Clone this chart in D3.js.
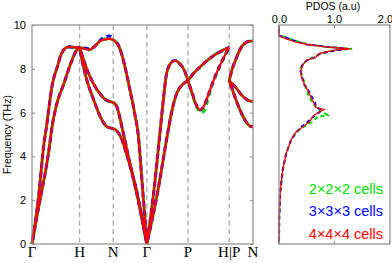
<!DOCTYPE html>
<html>
<head>
<meta charset="utf-8">
<script src="https://cdn.jsdelivr.net/npm/d3@7"></script>
<style>
body { margin: 0; background: #fff; }
svg { display: block; }
text { font-family: "Liberation Sans", Arial, sans-serif; }
</style>
</head>
<body>
<div id="chart"></div>
<script>
// high symmetry path
var kLabels = ["Γ", "H", "N", "Γ", "P", "H|P", "N"];
var kPos = [0, 1, 1.707, 2.414, 3.280, 4.146, 4.646];
var freqTicks = [0, 2, 4, 6, 8, 10];
var pdosTicks = [0, 1, 2];

// phonon branches, per segment, as [fraction along segment, THz]
var gammaH = [
  [[0,0],[0.13,2.0],[0.261,4.74],[0.294,5.2],[0.431,7.33],[0.534,8.1],[0.602,8.6],[0.678,8.9],[0.774,9.0],[0.883,8.98],[1,8.97]],
  [[0,0],[0.1,1.22],[0.384,4.74],[0.411,5.2],[0.499,6.2],[0.671,7.33],[0.842,8.4],[0.924,8.8],[1,8.97]]
];
var hN = [
  [[0,8.97],[0.15,8.92],[0.27,8.86],[0.47,9.05],[0.62,9.28],[0.87,9.37],[1,9.33]],
  [[0,8.97],[0.12,8.4],[0.25,7.85],[0.42,7.3],[0.6,6.88],[0.75,6.62],[0.9,6.5],[1,6.47]],
  [[0,8.97],[0.1,8.2],[0.22,7.47],[0.42,6.58],[0.62,5.8],[0.82,5.35],[1,5.27]]
];
var nGamma = [
  [[0,9.33],[0.18,8.99],[0.33,8.23],[0.48,7.17],[0.64,5.95],[0.74,5.04],[0.87,2.6],[1,0]],
  [[0,6.47],[0.1,6.3],[0.28,5.2],[0.45,4.0],[0.6,3.0],[0.75,1.95],[0.9,0.8],[1,0]],
  [[0,5.27],[0.1,5.18],[0.25,4.8],[0.4,4.1],[0.55,3.3],[0.7,2.4],[0.85,1.25],[1,0]]
];
var gammaP = [
  [[0,0],[0.154,2.15],[0.32,5.1],[0.4,6.56],[0.48,7.78],[0.6,8.3],[0.68,8.38],[0.8,8.23],[0.93,7.85],[1,7.45]],
  [[0,0],[0.24,2.15],[0.52,5.2],[0.6,6.0],[0.72,6.85],[0.85,7.25],[1,7.45]]
];
var pH = [
  [[0,7.45],[0.13,7.78],[0.29,8.08],[0.62,8.6],[0.87,8.87],[1,8.97]],
  [[0,7.45],[0.1,6.9],[0.2,6.35],[0.29,6.12],[0.37,6.25],[0.5,6.85],[0.62,7.47],[0.87,8.53],[1,8.97]]
];
var pN = [
  [[0,7.45],[0.1,7.9],[0.26,8.38],[0.47,8.91],[0.74,9.22],[0.95,9.27],[1,9.27]],
  [[0,7.45],[0.26,7.17],[0.53,6.79],[0.8,6.56],[1,6.5]],
  [[0,7.45],[0.19,6.87],[0.4,6.26],[0.67,5.65],[0.88,5.38],[1,5.35]]
];
// smaller supercells differ a little on a few branches
var blueHNTop = [[0,8.97],[0.15,8.95],[0.3,8.9],[0.5,9.1],[0.65,9.35],[0.88,9.5],[1,9.4]];
var greenPHLow = [[0,7.45],[0.1,6.85],[0.2,6.3],[0.31,6.0],[0.4,6.1],[0.5,6.75],[0.62,7.42],[0.87,8.5],[1,8.97]];

// PDOS
var pdosFreq = [10, 9.5, 9.46, 9.37, 9.22, 9.11, 9.0, 8.91, 8.85, 8.69, 8.53, 8.38, 8.15, 7.93, 7.7, 7.32, 7.02, 6.71, 6.41, 6.23, 6.14, 6.03, 5.88, 5.8, 5.57, 5.34, 5.12, 4.76, 4.13, 3.37, 2.31, 1.1, 0];
var pdos2 = [0, 0, 0.1, 0.2, 0.38, 0.55, 0.85, 1.33, 1.0, 0.75, 0.62, 0.5, 0.42, 0.38, 0.42, 0.47, 0.5, 0.55, 0.62, 0.68, 0.72, 0.8, 0.88, 0.7, 0.6, 0.44, 0.32, 0.22, 0.13, 0.065, 0.02, 0.003, 0];
var pdos3 = [0, 0, 0.1, 0.18, 0.35, 0.5, 0.9, 1.25, 1.05, 0.74, 0.66, 0.5, 0.42, 0.39, 0.41, 0.45, 0.53, 0.6, 0.66, 0.68, 0.78, 0.74, 0.66, 0.62, 0.52, 0.4, 0.32, 0.22, 0.13, 0.067, 0.02, 0.003, 0];
var pdos4 = [0, 0, 0.05, 0.13, 0.31, 0.52, 0.85, 1.3, 1.0, 0.73, 0.67, 0.49, 0.43, 0.4, 0.4, 0.46, 0.52, 0.58, 0.64, 0.67, 0.82, 0.73, 0.64, 0.61, 0.55, 0.43, 0.31, 0.22, 0.13, 0.067, 0.02, 0.003, 0];

var legendLabels = ["2×2×2 cells", "3×3×3 cells", "4×4×4 cells"];
var colors = ["#00dd00", "#0000ff", "#ff0000"];

var W = 392, H = 263;
var svg = d3.select("#chart").append("svg").attr("width", W).attr("height", H);

var x = d3.scaleLinear().domain([0, kPos[kPos.length - 1]]).range([32, 253]);
var y = d3.scaleLinear().domain([0, 10]).range([244, 25]);
var xp = d3.scaleLinear().domain([0, 2]).range([279, 389]);

var gray = "#8c8c8c";

// dashed verticals
svg.append("g").selectAll("line")
  .data(kPos.slice(1, kPos.length - 1))
  .join("line")
  .attr("x1", d => x(d)).attr("x2", d => x(d))
  .attr("y1", y(10)).attr("y2", y(0))
  .attr("stroke", "#aaa").attr("stroke-width", 1.3)
  .attr("stroke-dasharray", "5,3.5");

// branches
function toBranches(segs, overrides) {
  var out = [];
  segs.forEach(function(seg, i) {
    var k0 = kPos[i], k1 = kPos[i + 1];
    seg.forEach(function(br, j) {
      var pts = (overrides && overrides[i + "-" + j]) || br;
      out.push(pts.map(p => [k0 + p[0] * (k1 - k0), p[1]]));
    });
  });
  return out;
}
var segs = [gammaH, hN, nGamma, gammaP, pH, pN];
var bandSets = [
  toBranches(segs, {"4-1": greenPHLow}),
  toBranches(segs, {"1-0": blueHNTop}),
  toBranches(segs)
];

var line = d3.line().x(d => x(d[0])).y(d => y(d[1])).curve(d3.curveMonotoneX);
var styles = [
  {w: 3.1, dash: "5,4", off: 0},
  {w: 3.1, dash: "5,4", off: 4.5},
  {w: 2.2, dash: null, off: 0}
];
bandSets.forEach(function(set, i) {
  svg.append("g").selectAll("path")
    .data(set)
    .join("path")
    .attr("d", line)
    .attr("fill", "none")
    .attr("stroke", colors[i])
    .attr("stroke-width", styles[i].w)
    .attr("stroke-dasharray", styles[i].dash)
    .attr("stroke-dashoffset", styles[i].off);
});

// frame of left plot
svg.append("rect")
  .attr("x", 32).attr("y", 25).attr("width", 221).attr("height", 219)
  .attr("fill", "none").attr("stroke", gray).attr("stroke-width", 1.2);

var yAxisL = svg.append("g").attr("transform", "translate(32,0)")
  .call(d3.axisLeft(y).tickValues(freqTicks).tickSize(-3).tickPadding(6));
yAxisL.select(".domain").remove();
yAxisL.selectAll("line").attr("stroke", gray);
yAxisL.selectAll("text").attr("font-size", 11).attr("fill", "#000")
  .style("font-family", "Liberation Sans, Arial, sans-serif");
var yAxisR = svg.append("g").attr("transform", "translate(253,0)")
  .call(d3.axisRight(y).tickValues(freqTicks).tickSize(-3).tickFormat(""));
yAxisR.select(".domain").remove();
yAxisR.selectAll("line").attr("stroke", gray);

svg.append("text")
  .attr("transform", "translate(11," + y(5) + ") rotate(-90)")
  .attr("text-anchor", "middle")
  .attr("font-size", 10.5)
  .text("Frequency (THz)");

svg.append("g").selectAll("text")
  .data(kPos)
  .join("text")
  .attr("x", d => x(d)).attr("y", 257)
  .attr("text-anchor", "middle")
  .style("font-family", "Liberation Serif, Times New Roman, serif")
  .attr("font-size", 15)
  .text((d, i) => kLabels[i]);

// PDOS panel
var pline = d3.line().x(d => xp(d[1])).y(d => y(d[0]));
var pdosSets = [pdos2, pdos3, pdos4];
var pstyles = [
  {w: 2, dash: "4,3", off: 0},
  {w: 2, dash: "4,3", off: 3.5},
  {w: 1.3, dash: null, off: 0}
];
pdosSets.forEach(function(vals, i) {
  svg.append("path")
    .datum(pdosFreq.map((f, j) => [f, vals[j]]))
    .attr("d", pline)
    .attr("fill", "none")
    .attr("stroke", colors[i])
    .attr("stroke-width", pstyles[i].w)
    .attr("stroke-dasharray", pstyles[i].dash)
    .attr("stroke-dashoffset", pstyles[i].off);
});

svg.append("rect")
  .attr("x", 279).attr("y", 25).attr("width", 111).attr("height", 219)
  .attr("fill", "none").attr("stroke", gray).attr("stroke-width", 1.2);

var xTop = svg.append("g").attr("transform", "translate(0,25)")
  .call(d3.axisTop(xp).tickValues(pdosTicks).tickSize(-3).tickPadding(2));
xTop.select(".domain").remove();
xTop.selectAll("line").attr("stroke", gray);
xTop.selectAll("text").attr("font-size", 11).attr("fill", "#000")
  .style("font-family", "Liberation Sans, Arial, sans-serif");
xTop.selectAll("text").filter(d => d === 2).attr("dx", -4);
var xBot = svg.append("g").attr("transform", "translate(0,244)")
  .call(d3.axisBottom(xp).tickValues(pdosTicks).tickSize(-3).tickFormat(""));
xBot.select(".domain").remove();
xBot.selectAll("line").attr("stroke", gray);

svg.append("text")
  .attr("x", 333).attr("y", 10)
  .attr("text-anchor", "middle")
  .attr("font-size", 10.5)
  .text("PDOS (a.u)");

svg.append("g").selectAll("text")
  .data(legendLabels)
  .join("text")
  .attr("x", 383)
  .attr("y", (d, i) => 193.5 + i * 22.5)
  .attr("text-anchor", "end")
  .attr("font-size", 14.5)
  .attr("fill", (d, i) => colors[i])
  .text(d => d);
</script>
</body>
</html>
